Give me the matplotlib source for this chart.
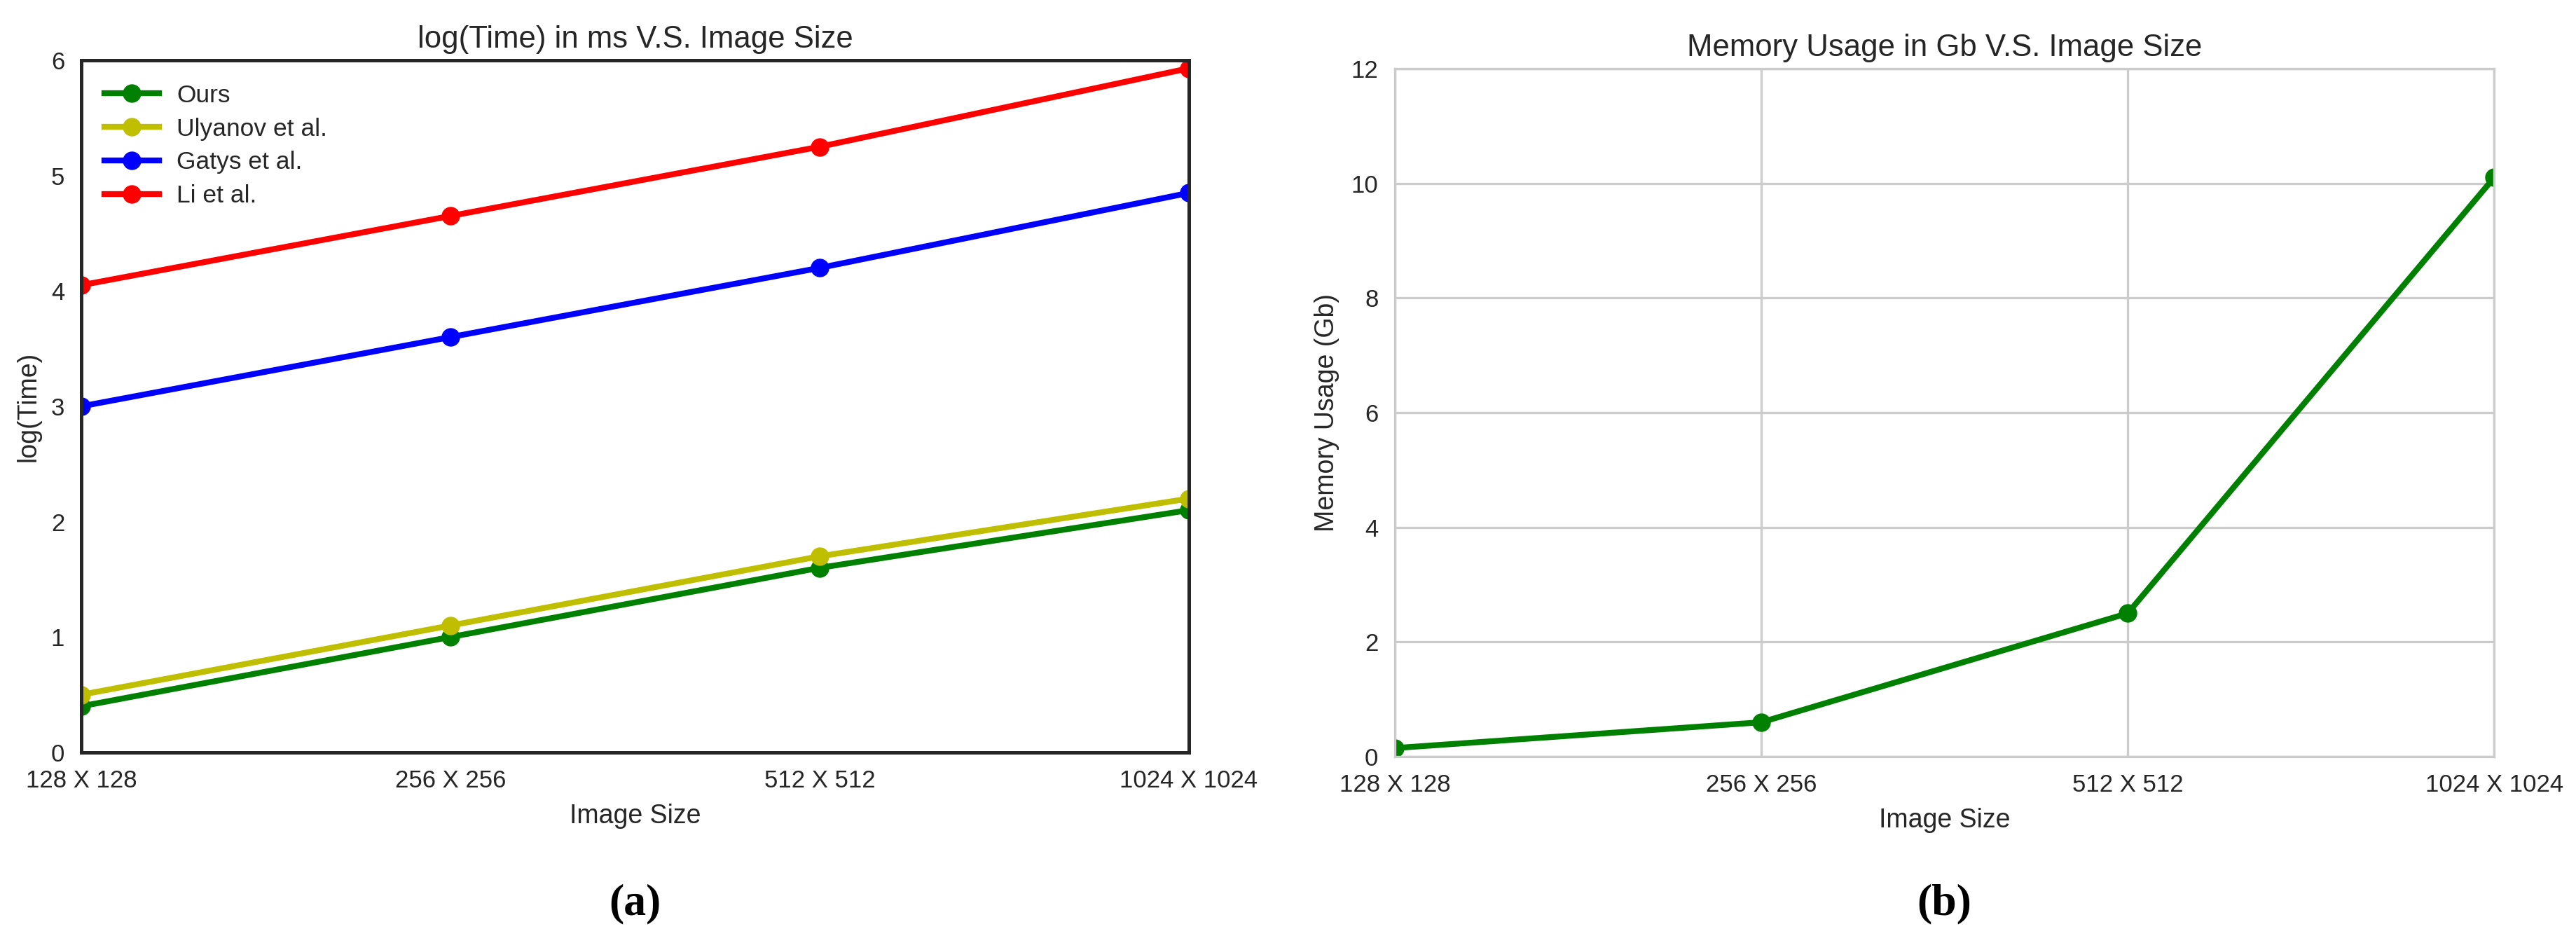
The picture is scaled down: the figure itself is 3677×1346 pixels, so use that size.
import numpy as np
import matplotlib
matplotlib.use("Agg")
import matplotlib.pyplot as plt

# ---------------------------------------------------------------------
# Data
# ---------------------------------------------------------------------
SIZES = ["128 X 128", "256 X 256", "512 X 512", "1024 X 1024"]

LOG_TIME_OURS    = [0.4, 1.0, 1.6, 2.1]
LOG_TIME_ULYANOV = [0.5, 1.1, 1.7, 2.2]
LOG_TIME_GATYS   = [3.0, 3.6, 4.2, 4.85]
LOG_TIME_LI      = [4.05, 4.65, 5.25, 5.93]

MEMORY_GB = [0.15, 0.6, 2.5, 10.1]

TEXT = "#262626"
GRID = "#cccccc"

plt.rcParams["font.family"] = ["Liberation Sans", "DejaVu Sans"]
plt.rcParams["text.color"] = TEXT
plt.rcParams["axes.labelcolor"] = TEXT
plt.rcParams["xtick.color"] = TEXT
plt.rcParams["ytick.color"] = TEXT

fig = plt.figure(figsize=(36.77, 13.46), dpi=100)
ax_a = fig.add_axes([0.0315, 0.2021, 0.4300, 0.7340])
ax_b = fig.add_axes([0.5415, 0.1976, 0.4267, 0.7296])

x = np.arange(len(SIZES))
LW = 6
MS = 18
TICK_FS = 25
LABEL_FS = 27
TITLE_FS = 31.5

# ---------------- (a) log(Time) ----------------
ax_a.plot(x, LOG_TIME_OURS, "-o", color="g", lw=LW, ms=MS, label="Ours")
ax_a.plot(x, LOG_TIME_ULYANOV, "-o", color="y", lw=LW, ms=MS, label="Ulyanov et al.")
ax_a.plot(x, LOG_TIME_GATYS, "-o", color="b", lw=LW, ms=MS, label="Gatys et al.")
ax_a.plot(x, LOG_TIME_LI, "-o", color="r", lw=LW, ms=MS, label="Li et al.")
ax_a.set_xlim(0, 3)
ax_a.set_ylim(0, 6)
ax_a.set_yticks(range(0, 7))
ax_a.set_xticks(x)
ax_a.set_xticklabels(SIZES)
for s in ax_a.spines.values():
    s.set_color(TEXT)
    s.set_linewidth(3.6)
ax_a.tick_params(length=0, labelsize=TICK_FS, pad=17)
ax_a.set_xlabel("Image Size", fontsize=LABEL_FS, labelpad=12)
ax_a.set_ylabel("log(Time)", fontsize=LABEL_FS, labelpad=10)
ax_a.set_title("log(Time) in ms V.S. Image Size", fontsize=TITLE_FS, pad=13)
ax_a.legend(loc="upper left", frameon=False, fontsize=25.5, handlelength=2.2,
            handletextpad=0.7, labelspacing=0.42, borderaxespad=0.55)

# ---------------- (b) Memory usage ----------------
ax_b.plot(x, MEMORY_GB, "-o", color="g", lw=LW, ms=MS)
ax_b.set_xlim(0, 3)
ax_b.set_ylim(0, 12)
ax_b.set_yticks(range(0, 13, 2))
ax_b.set_xticks(x)
ax_b.set_xticklabels(SIZES)
ax_b.set_axisbelow(True)
ax_b.grid(True, color=GRID, lw=2.4)
for s in ax_b.spines.values():
    s.set_color(GRID)
    s.set_linewidth(2.4)
ax_b.tick_params(length=0, labelsize=TICK_FS, pad=17)
ax_b.set_xlabel("Image Size", fontsize=LABEL_FS, labelpad=12)
ax_b.set_ylabel("Memory Usage (Gb)", fontsize=LABEL_FS, labelpad=12)
ax_b.set_title("Memory Usage in Gb V.S. Image Size", fontsize=TITLE_FS, pad=13)

# panel letters
fig.text(906 / 3677, 1 - 1305 / 1346, "(a)", ha="center", va="baseline",
         fontsize=46, fontweight="bold", family=["Liberation Serif", "DejaVu Serif"], color="black")
fig.text(2775 / 3677, 1 - 1305 / 1346, "(b)", ha="center", va="baseline",
         fontsize=46, fontweight="bold", family=["Liberation Serif", "DejaVu Serif"], color="black")

fig.savefig("out.png", dpi=100)
